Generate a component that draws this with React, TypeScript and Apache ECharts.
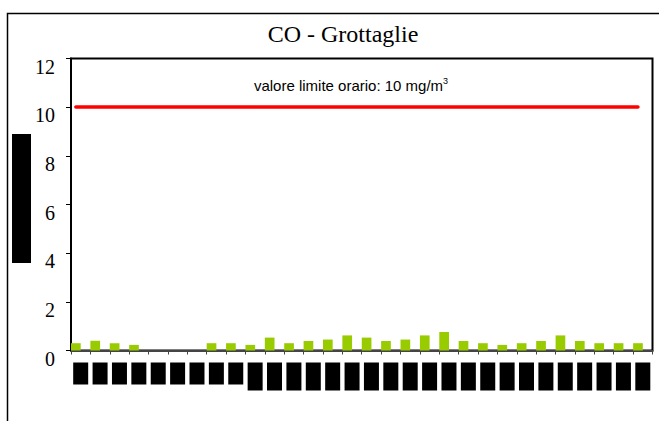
import React, { useEffect, useRef } from 'react';
import * as echarts from 'echarts';

const days = ['1','2','3','4','5','6','7','8','9','10','11','12','13','14','15','16','17','18','19','20','21','22','23','24','25','26','27','28','29','30'];
const coValues = [0.3,0.4,0.3,0.23,0,0,0,0.3,0.3,0.23,0.53,0.3,0.39,0.45,0.62,0.53,0.39,0.45,0.62,0.76,0.39,0.3,0.23,0.3,0.39,0.62,0.39,0.3,0.3,0.3];
const limitValue = 10;
const yMin = 0;
const yMax = 12;
const yStep = 2;
const chartTitle = 'CO - Grottaglie';
const yAxisTitle = 'CO (mg/m³)';
const limitLabel = 'valore limite orario: 10 mg/m';

export default function App() {
  const ref = useRef<HTMLDivElement>(null);
  useEffect(() => {
    if (!ref.current) return;
    const chart = echarts.init(ref.current, null, { renderer: 'svg' });
    chart.setOption({
      animation: false,
      backgroundColor: '#fff',
      title: {
        text: chartTitle,
        left: 338,
        top: 17,
        textAlign: 'center',
        textStyle: { fontFamily: 'Liberation Serif', fontSize: 24, fontWeight: 'normal', color: '#000' },
      },
      graphic: [
        {
          type: 'rect',
          shape: { x: 7.5, y: 13.5, width: 700, height: 440 },
          style: { fill: 'none', stroke: '#000', lineWidth: 1.5 },
          silent: true,
        },
        {
          type: 'text',
          x: 351,
          y: 85,
          style: {
            text: limitLabel + '{sup|3}',
            fill: '#000',
            font: '15px "Liberation Sans"',
            align: 'center',
            verticalAlign: 'middle',
            rich: { sup: { fontSize: 9, verticalAlign: 'top', padding: [0, 0, 8, 0], fill: '#000', fontFamily: 'Liberation Sans' } },
          },
        },
      ],
      grid: {
        left: 71,
        right: 6.5,
        top: 58.5,
        bottom: 70.5,
        show: true,
        borderColor: '#000',
        borderWidth: 2,
        containLabel: false,
        outerBoundsMode: 'none',
      },
      xAxis: {
        type: 'category',
        data: days,
        boundaryGap: true,
        axisLine: { lineStyle: { color: '#444', width: 2 } },
        axisTick: { show: true, length: 4, lineStyle: { color: '#444', width: 1 } },
        axisLabel: {
          margin: 12,
          interval: 0,
          formatter: (v: string) => (v.length < 2 ? '{s|' + v + '}' : '{l|' + v + '}'),
          rich: {
            s: { width: 15, height: 22, backgroundColor: '#000', color: '#000', fontSize: 9, align: 'center', verticalAlign: 'top' },
            l: { width: 15, height: 28, backgroundColor: '#000', color: '#000', fontSize: 9, align: 'center', verticalAlign: 'top' },
          },
        },
        splitLine: { show: false },
      },
      yAxis: {
        type: 'value',
        min: yMin,
        max: yMax,
        interval: yStep,
        name: '{box|' + yAxisTitle + '}',
        nameLocation: 'middle',
        nameRotate: 90,
        nameGap: 40,
        nameMoveOverlap: false,
        nameTextStyle: {
          padding: [0, 0, 0, 12],
          rich: {
            box: {
              backgroundColor: '#000',
              color: '#000',
              width: 129,
              height: 19,
              lineHeight: 19,
              fontSize: 11,
              align: 'center',
            },
          },
        },
        axisLine: { show: true, lineStyle: { color: '#000', width: 2 } },
        axisTick: { show: true, length: 5, lineStyle: { color: '#000', width: 1 } },
        axisLabel: {
          margin: 16,
          color: '#000',
          fontFamily: 'Liberation Serif',
          fontSize: 20,
          verticalAlign: 'top',
          lineHeight: 16,
        },
        splitLine: { show: false },
      },
      series: [
        {
          type: 'bar',
          data: coValues,
          barGap: '0%',
          barCategoryGap: '0%',
          itemStyle: { color: '#99CC00' },
          markLine: {
            silent: true,
            symbol: ['none', 'none'],
            label: { show: false },
            lineStyle: { color: '#FF0000', width: 3.5, type: 'solid', cap: 'round' },
            data: [[{ coord: [days[0], limitValue] }, { coord: [days[days.length - 1], limitValue] }]],
          },
        },
        {
          type: 'bar',
          data: [],
          itemStyle: { color: 'transparent' },
        },
      ],
    });
    return () => chart.dispose();
  }, []);
  return <div ref={ref} style={{ position: 'fixed', left: 0, top: 0, width: 659, height: 421 }} />;
}
